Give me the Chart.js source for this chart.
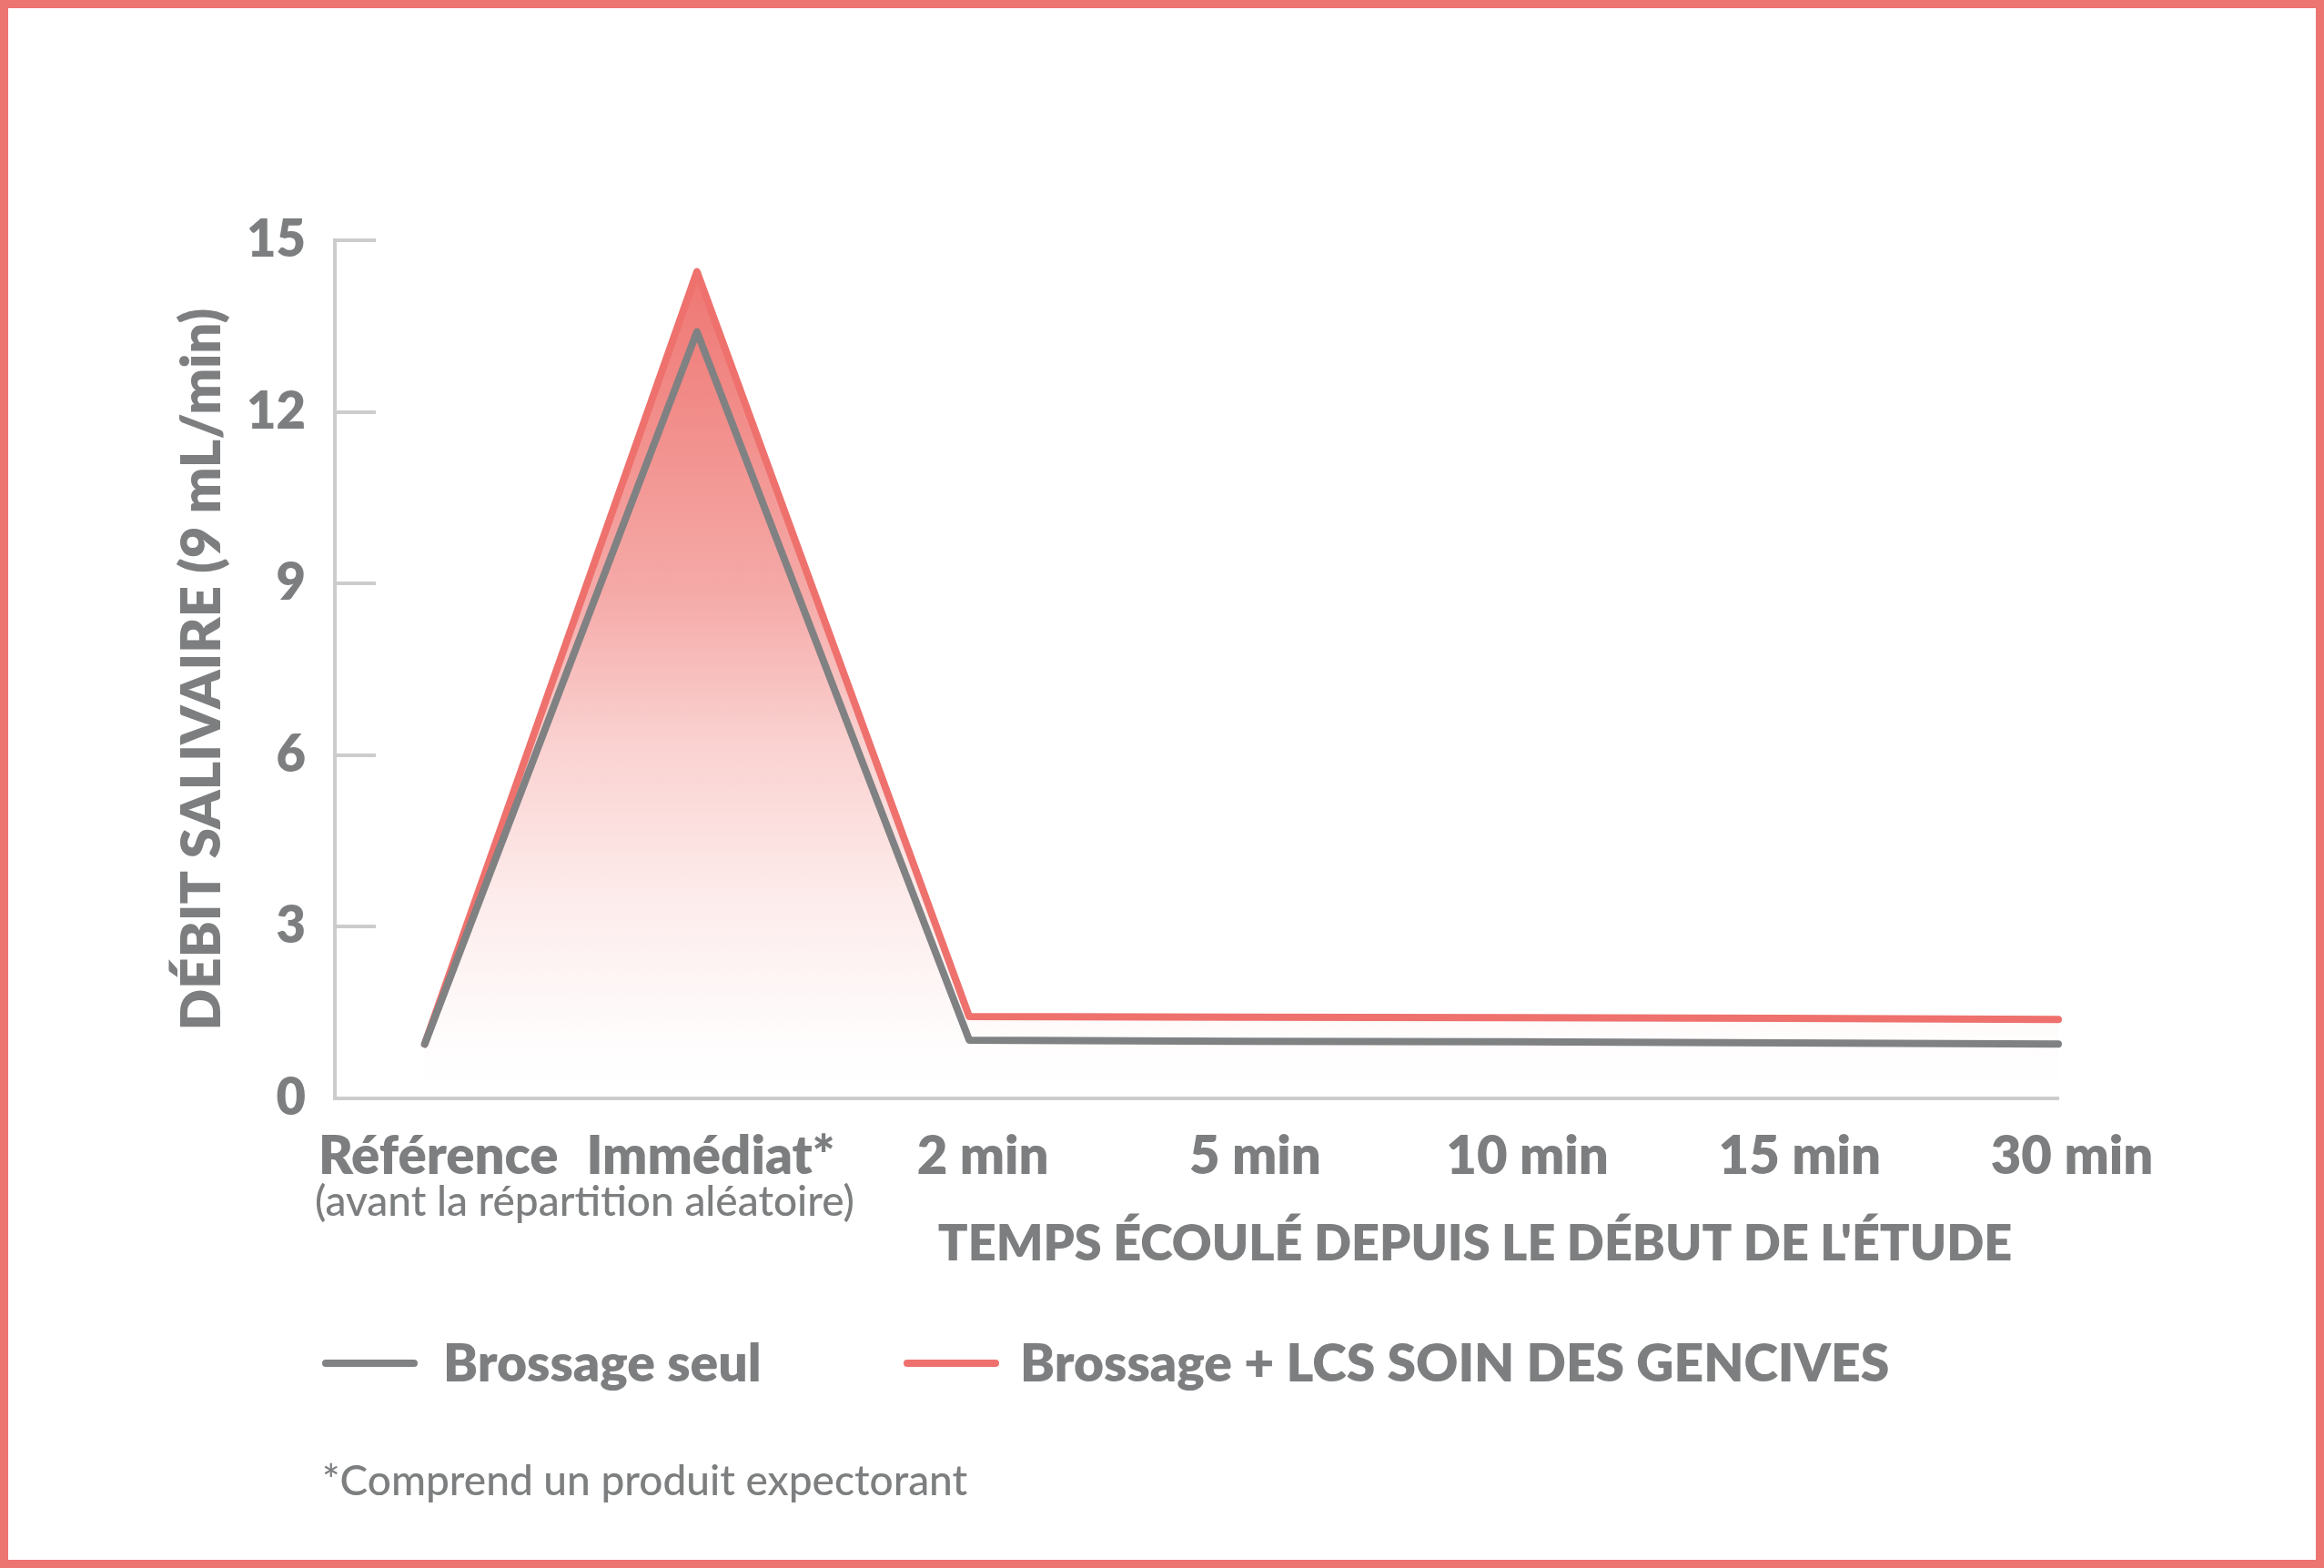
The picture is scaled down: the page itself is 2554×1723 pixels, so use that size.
<!DOCTYPE html>
<html lang="fr">
<head>
<meta charset="utf-8">
<title>Débit salivaire</title>
<script src="https://cdn.jsdelivr.net/npm/chart.js@4.4.1/dist/chart.umd.min.js"></script>
<style>
  html, body { margin: 0; padding: 0; background: #fff; }
  #frame { width: 2554px; height: 1723px; box-sizing: border-box; border: 9px solid #ec7471; }
  #frame canvas { display: block; }
</style>
</head>
<body>
<div id="frame"><canvas id="salivaChart" width="2536" height="1705"></canvas></div>
<script>
const categories = ['Référence', 'Immédiat*', '2 min', '5 min', '10 min', '15 min', '30 min'];
const brossageSeul = [0.95, 13.4, 1.02, 1.0, 0.99, 0.97, 0.95];
const brossageLcs = [0.95, 14.45, 1.43, 1.42, 1.41, 1.4, 1.38];
const yTicks = [0, 3, 6, 9, 12, 15];
const seriesNames = ['Brossage seul', 'Brossage + LCS SOIN DES GENCIVES'];
const subLabel = '(avant la répartition aléatoire)';
const xTitle = "TEMPS ÉCOULÉ DEPUIS LE DÉBUT DE L'ÉTUDE";
const yTitle = 'DÉBIT SALIVAIRE (9 mL/min)';
const footnote = '*Comprend un produit expectorant';

const GREY = '#7c7e7f';
const LINE_GREY = '#808182';
const RED = '#ee716d';
const AXIS = '#cccccc';
const LABEL_SHIFT = 15;

Chart.defaults.font.family = 'Lato';
Chart.defaults.color = GREY;

const toPoints = (arr) => arr.map((v, i) => ({ x: i, y: v }));

// red fill fading to white towards the x axis
const redFill = (context) => {
  const { chart } = context;
  const area = chart.chartArea;
  if (!area) return 'rgba(238,113,109,0.3)';
  const g = chart.ctx.createLinearGradient(0, area.top, 0, area.bottom);
  g.addColorStop(0, 'rgba(238,113,109,1)');
  g.addColorStop(0.41, 'rgba(238,113,109,0.6)');
  g.addColorStop(0.58, 'rgba(238,113,109,0.33)');
  g.addColorStop(0.76, 'rgba(238,113,109,0.14)');
  g.addColorStop(0.93, 'rgba(238,113,109,0.02)');
  g.addColorStop(1, 'rgba(238,113,109,0)');
  return g;
};

// inward y ticks, sub label, x title, legend and footnote
const extras = {
  id: 'extras',
  afterDraw(chart) {
    const { ctx, chartArea, scales } = chart;
    const x = scales.x, y = scales.y;
    ctx.save();

    ctx.strokeStyle = AXIS;
    ctx.lineWidth = 4;
    y.ticks.forEach((t) => {
      const py = Math.round(y.getPixelForValue(t.value));
      ctx.beginPath();
      ctx.moveTo(chartArea.left, py);
      ctx.lineTo(chartArea.left + 45, py);
      ctx.stroke();
    });

    ctx.fillStyle = GREY;
    ctx.textBaseline = 'alphabetic';

    ctx.font = '800 58px Lato';
    const mainW = ctx.measureText(categories[0]).width;
    ctx.font = '500 46px Lato';
    ctx.textAlign = 'left';
    ctx.fillText(subLabel, x.getPixelForValue(0) + LABEL_SHIFT - mainW / 2 - 4, 1327);

    ctx.font = '800 54px Lato';
    ctx.textAlign = 'center';
    ctx.fillText(xTitle, 1612, 1376);

    const legendPos = [{ sx: 345, tx: 478 }, { sx: 984, tx: 1112 }];
    ctx.font = '800 57px Lato';
    ctx.textAlign = 'left';
    chart.data.datasets.forEach((ds, i) => {
      const p = legendPos[i];
      ctx.fillStyle = ds.borderColor;
      ctx.beginPath();
      ctx.roundRect(p.sx, 1485, 105, 8, 4);
      ctx.fill();
      ctx.fillStyle = GREY;
      ctx.fillText(ds.label, p.tx, 1509);
    });

    ctx.font = '500 46px Lato';
    ctx.fillText(footnote, 345, 1634);
    ctx.restore();
  }
};

new Chart(document.getElementById('salivaChart'), {
  type: 'line',
  data: {
    datasets: [
      {
        label: seriesNames[0],
        data: toPoints(brossageSeul),
        borderColor: LINE_GREY,
        borderWidth: 8,
        borderCapStyle: 'round',
        borderJoinStyle: 'round',
        pointRadius: 0,
        fill: false,
        clip: false
      },
      {
        label: seriesNames[1],
        data: toPoints(brossageLcs),
        borderColor: RED,
        backgroundColor: redFill,
        borderWidth: 8,
        borderCapStyle: 'round',
        borderJoinStyle: 'round',
        pointRadius: 0,
        fill: 'origin',
        clip: false
      }
    ]
  },
  options: {
    responsive: false,
    animation: false,
    layout: { padding: { left: 159, top: 255, right: 283, bottom: 357 } },
    plugins: { legend: { display: false }, tooltip: { enabled: false } },
    scales: {
      x: {
        type: 'linear',
        min: -0.33,
        max: 6,
        afterBuildTicks: (s) => { s.ticks = categories.map((_, i) => ({ value: i })); },
        afterFit: (s) => { s.height = 150; },
        grid: { display: false, drawTicks: false },
        border: { display: true, color: AXIS, width: 4 },
        ticks: {
          autoSkip: false,
          maxRotation: 0,
          padding: 29,
          labelOffset: LABEL_SHIFT,
          color: GREY,
          font: { size: 58, weight: '800' },
          callback: (v) => categories[v] ?? ''
        }
      },
      y: {
        min: 0,
        max: 15,
        afterBuildTicks: (s) => { s.ticks = yTicks.map((v) => ({ value: v })); },
        afterFit: (s) => { s.width = 200; },
        grid: { display: false, drawTicks: false },
        border: { display: true, color: AXIS, width: 4 },
        ticks: {
          padding: 32,
          color: GREY,
          font: { size: 56, weight: '800' }
        },
        title: {
          display: true,
          text: yTitle,
          color: GREY,
          font: { size: 60, weight: '800' },
          padding: { top: 19, bottom: 0 }
        }
      }
    }
  },
  plugins: [extras]
});
</script>
</body>
</html>
